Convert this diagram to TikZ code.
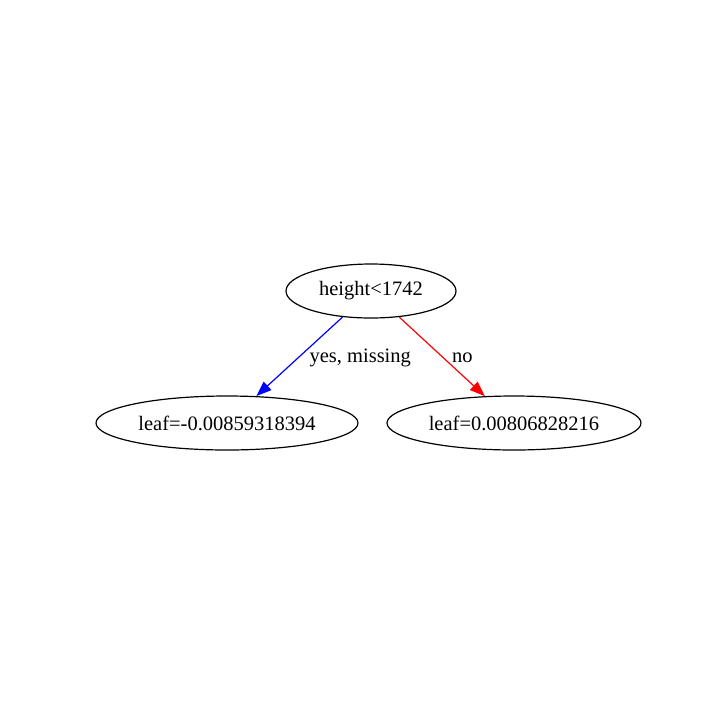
\documentclass[tikz,border=0pt]{standalone}
\usepackage{fontspec}
\setmainfont{Liberation Serif}
\usetikzlibrary{shapes.geometric,arrows.meta}

\begin{document}
\begin{tikzpicture}[x=0.5pt,y=-0.5pt]
\tikzstyle{split} = [ellipse, draw=black, line width=0.6pt, inner sep=0pt, minimum height=27pt, font=\fontsize{10.25}{12}\selectfont]
\tikzstyle{leaf} = [ellipse, draw=black, line width=0.6pt, inner sep=0pt, minimum height=27pt, font=\fontsize{10.25}{12}\selectfont]
\tikzstyle{branch} = [line width=0.6pt, -{Triangle[length=7.6pt,width=5.6pt]}]
\tikzstyle{branchlabel} = [anchor=west, inner sep=0pt, xshift=4.75pt, yshift=-0.5pt, font=\fontsize{10.25}{12}\selectfont, text=black]

\useasboundingbox (0,0) rectangle (720,720);

\node(root) [split, minimum width=85pt] at (371,291) {height<1742};
\node(leafYes) [leaf, minimum width=131pt] at (227,423) {leaf=-0.00859318394};
\node(leafNo) [leaf, minimum width=127pt] at (514,423) {leaf=0.00806828216};
\draw[branch, blue] (root) -- node(yesLabel)[branchlabel] {yes, missing} (leafYes);
\draw[branch, red] (root) -- node(noLabel)[branchlabel] {no} (leafNo);
\end{tikzpicture}
\end{document}
